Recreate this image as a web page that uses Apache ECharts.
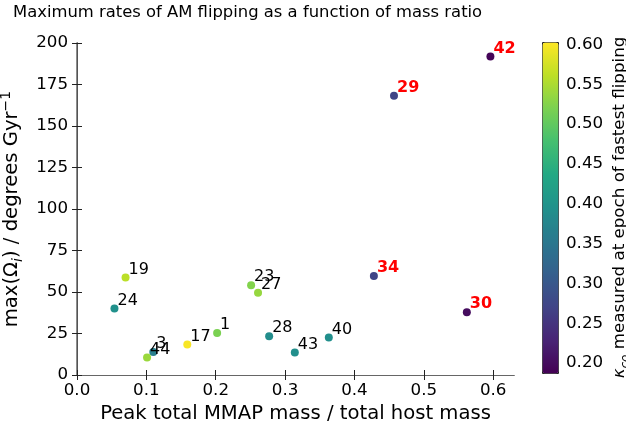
<!DOCTYPE html>
<html>
<head>
<meta charset="utf-8">
<script src="https://cdn.jsdelivr.net/npm/echarts@6/dist/echarts.min.js"></script>
<style>html,body{margin:0;padding:0;background:#fff}#c{width:626px;height:428px}</style>
</head>
<body>
<div id="c"></div>
<script>
// Halo IDs, mass ratio (x), max rate (y), kappa_co (colour)
var haloIds   = ['24', '19', '3', '44', '17', '1', '23', '27', '28', '43', '40', '34', '29', '30', '42'];
var massRatio = [0.054, 0.070, 0.110, 0.101, 0.159, 0.202, 0.251, 0.261, 0.277, 0.314, 0.363, 0.428, 0.457, 0.562, 0.596];
var maxRate   = [40.1, 58.8, 13.9, 10.5, 18.3, 25.3, 54.1, 49.5, 23.4, 13.5, 22.6, 59.6, 168.2, 37.8, 191.9];
var kappaCo   = [0.395, 0.560, 0.365, 0.540, 0.600, 0.520, 0.525, 0.537, 0.388, 0.392, 0.392, 0.272, 0.272, 0.200, 0.192];
var highlighted = ['42', '29', '34', '30'];
var xTicks = [0.0, 0.1, 0.2, 0.3, 0.4, 0.5, 0.6];
var cbTicks = [0.20, 0.25, 0.30, 0.35, 0.40, 0.45, 0.50, 0.55, 0.60];
var cbMin = 0.1875, cbMax = 0.603;
var viridis = ['#440154','#482475','#414487','#355f8d','#2a788e','#21918c','#22a884','#44bf70','#7ad151','#bddf26','#fde725'];

var FONT = 'DejaVu Sans';
var data = haloIds.map(function (id, i) {
  var item = { value: [massRatio[i], maxRate[i], kappaCo[i], id] };
  if (highlighted.indexOf(id) >= 0) {
    item.label = { color: '#ff0000', fontWeight: 'bold' };
  }
  return item;
});

var chart = echarts.init(document.getElementById('c'), null, { renderer: 'canvas' });
chart.setOption({
  animation: false,
  backgroundColor: '#ffffff',
  title: {
    text: 'Maximum rates of AM flipping as a function of mass ratio',
    left: 8, top: 0,
    textStyle: { fontFamily: FONT, fontSize: 16.4, fontWeight: 'normal', color: '#000' }
  },
  grid: [
    { left: 77, right: 112, top: 43, bottom: 53, outerBoundsMode: 'none', containLabel: false },
    { left: 542, width: 16, top: 42, height: 331, outerBoundsMode: 'none', containLabel: false }
  ],
  xAxis: [
    {
      type: 'value', gridIndex: 0, min: 0, max: 0.63, position: 'bottom',
      name: 'Peak total MMAP mass / total host mass', nameLocation: 'middle', nameGap: 28,
      nameTextStyle: { fontFamily: FONT, fontSize: 19.6, color: '#000' },
      axisLine: { show: true, lineStyle: { color: '#222', width: 1 } },
      axisTick: { show: true, inside: false, length: 5, lineStyle: { color: '#222' }, customValues: xTicks },
      axisLabel: { fontFamily: FONT, fontSize: 16.7, color: '#000', margin: 7, customValues: xTicks,
        formatter: function (v) { return v.toFixed(1); } },
      splitLine: { show: false }
    },
    {
      type: 'value', gridIndex: 0, min: 0, max: 0.63, position: 'top',
      axisLine: { show: true, lineStyle: { color: '#666', width: 1 } },
      axisTick: { show: true, inside: false, length: 5, lineStyle: { color: '#222' }, customValues: xTicks },
      axisLabel: { show: false },
      splitLine: { show: false }
    },
    { type: 'value', gridIndex: 1, show: false, min: 0, max: 1 }
  ],
  yAxis: [
    {
      type: 'value', gridIndex: 0, min: 0, max: 200, interval: 25, position: 'left',
      name: 'max(Ω{sub|i}) / degrees Gyr{sup|−1}', nameLocation: 'middle', nameGap: 46, nameRotate: 90,
      nameTextStyle: { fontFamily: FONT, fontSize: 19.6, color: '#000', lineHeight: 26,
        rich: {
          sub: { fontFamily: FONT, fontSize: 14, fontStyle: 'italic', color: '#000', verticalAlign: 'bottom', lineHeight: 16 },
          sup: { fontFamily: FONT, fontSize: 14, color: '#000', verticalAlign: 'top', lineHeight: 16 }
        } },
      axisLine: { show: true, lineStyle: { color: '#222', width: 1 } },
      axisTick: { show: true, inside: false, length: 5, lineStyle: { color: '#222' } },
      axisLabel: { fontFamily: FONT, fontSize: 16.7, color: '#000', margin: 9 },
      splitLine: { show: false }
    },
    {
      type: 'value', gridIndex: 0, min: 0, max: 200, interval: 25, position: 'right',
      axisLine: { show: true, lineStyle: { color: '#666', width: 1.5 } },
      axisTick: { show: true, inside: false, length: 5, lineStyle: { color: '#222' } },
      axisLabel: { show: false },
      splitLine: { show: false }
    },
    {
      type: 'value', gridIndex: 1, min: cbMin, max: cbMax, position: 'right',
      name: '{k|κ}{s|co} measured at epoch of fastest flipping', nameLocation: 'middle', nameGap: 50, nameRotate: 90,
      nameTextStyle: { fontFamily: FONT, fontSize: 16.7, color: '#000', lineHeight: 24,
        rich: {
          k: { fontFamily: FONT, fontSize: 16.7, fontStyle: 'italic', color: '#000' },
          s: { fontFamily: FONT, fontSize: 12, fontStyle: 'italic', color: '#000', verticalAlign: 'bottom', lineHeight: 14 }
        } },
      axisLine: { show: false },
      axisTick: { show: true, inside: false, length: 5, lineStyle: { color: '#222' }, customValues: cbTicks },
      axisLabel: { fontFamily: FONT, fontSize: 16.7, color: '#000', margin: 8, customValues: cbTicks,
        formatter: function (v) { return v.toFixed(2); } },
      splitLine: { show: false }
    }
  ],
  visualMap: {
    type: 'continuous',
    min: cbMin, max: cbMax,
    dimension: 2,
    seriesIndex: 0,
    inRange: { color: viridis },
    calculable: false,
    hoverLink: false,
    realtime: false,
    show: true,
    text: null,
    showLabel: false,
    itemWidth: 16,
    itemHeight: 331,
    left: 542, top: 42,
    padding: 0,
    borderColor: '#222',
    borderWidth: 1,
    textStyle: { color: 'transparent' }
  },
  series: [
    {
      type: 'scatter',
      xAxisIndex: 0, yAxisIndex: 0,
      symbol: 'circle',
      symbolSize: 8,
      itemStyle: { opacity: 1 },
      data: data,
      label: {
        show: true,
        position: 'right',
        distance: -1,
        offset: [0, -8],
        fontFamily: FONT,
        fontSize: 16,
        color: '#000',
        opacity: 1,
        formatter: function (p) { return p.value[3]; }
      },
      emphasis: { disabled: true }
    }
  ]
});
</script>
</body>
</html>
